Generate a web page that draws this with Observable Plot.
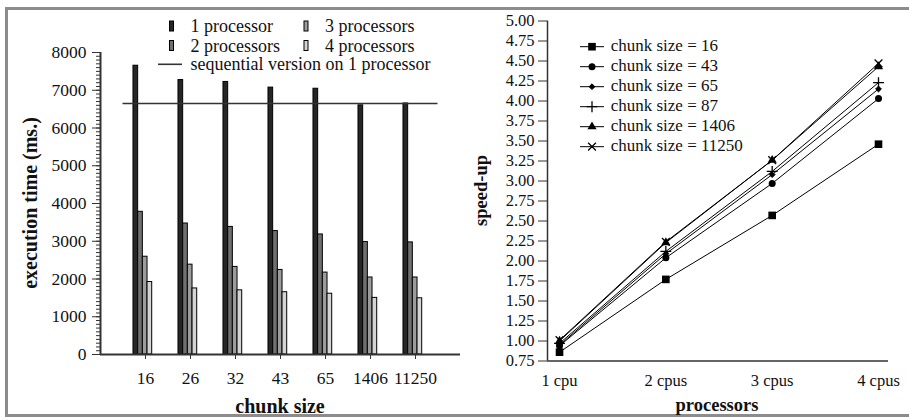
<!DOCTYPE html>
<html><head><meta charset="utf-8">
<script src="https://cdn.jsdelivr.net/npm/d3@7"></script>
<script src="https://cdn.jsdelivr.net/npm/@observablehq/plot@0.6"></script>
<style>
body{margin:0;background:#fff;}
#wrap{position:relative;width:909px;height:419px;overflow:hidden;background:#fff;}
#frame{position:absolute;left:5px;top:7px;width:920px;height:404px;border:3px solid #8c8c8c;border-right:none;}
#left{position:absolute;left:0;top:0}
#right{position:absolute;left:460px;top:0}
svg text{font-family:'Liberation Serif','Times New Roman',serif;}
</style></head><body>
<div id="wrap"><div id="frame"></div><div id="left"></div><div id="right"></div></div>
<script>
// ---- left chart data ----
const chunkSizes = ["16","26","32","43","65","1406","11250"];
const time1 = [7650,7270,7220,7070,7040,6600,6650];
const time2 = [3780,3470,3380,3270,3180,2980,2970];
const time3 = [2590,2380,2320,2240,2170,2040,2040];
const time4 = [1920,1750,1700,1650,1610,1500,1490];
const sequentialTime = 6650;
const processorLabels = ["1 processor","2 processors","3 processors","4 processors"];
const sequentialLabel = "sequential version on 1 processor";
const timeTicks = [0,1000,2000,3000,4000,5000,6000,7000,8000];

// ---- right chart data ----
const cpuLabels = ["1 cpu","2 cpus","3 cpus","4 cpus"];
const lineChunks = ["16","43","65","87","1406","11250"];
const speed16 = [0.86,1.77,2.57,3.46];
const speed43 = [0.94,2.04,2.97,4.03];
const speed65 = [0.95,2.09,3.08,4.15];
const speed87 = [0.97,2.12,3.12,4.23];
const speed1406 = [1.00,2.23,3.26,4.43];
const speed11250 = [1.01,2.24,3.26,4.47];
const speedTicks = [0.75,1.00,1.25,1.50,1.75,2.00,2.25,2.50,2.75,3.00,3.25,3.50,3.75,4.00,4.25,4.50,4.75,5.00];

// ---- styles ----
const barColors = ["#262626","#707070","#9c9c9c","#d4d4d4"];
const serif = "'Liberation Serif','Times New Roman',serif";
const axisColor = "#333";

// ================= LEFT =================
const times = [time1,time2,time3,time4];
const bars = [];
times.forEach((arr,k)=>arr.forEach((v,i)=>bars.push({i, k, v})));
const bw = 0.104, off = -0.267;

const left = Plot.plot({
  width: 460, height: 419,
  marginLeft: 100, marginRight: 0, marginTop: 52, marginBottom: 65,
  style: {fontFamily: serif, fontSize: "17.5px", color: "#111", background: "transparent", overflow: "visible"},
  x: {domain: [0, 8], axis: null},
  y: {domain: [0, 8000], axis: null},
  color: {type: "identity"},
  marks: [
    Plot.rectY(bars, {
      x1: d => d.i + 1 + off + d.k * bw,
      x2: d => d.i + 1 + off + (d.k + 1) * bw,
      y1: 0, y2: "v",
      fill: d => barColors[d.k], stroke: "#000", strokeWidth: 1
    }),
    Plot.ruleY([sequentialTime], {x1: 0.5, x2: 7.5, stroke: axisColor, strokeWidth: 1.6}),
    Plot.axisY({ticks: d3.range(0, 8001, 100), tickSize: 4, tickFormat: () => "", label: null, stroke: axisColor}),
    Plot.axisY({ticks: timeTicks, tickSize: 8, tickPadding: 6, tickFormat: d => String(d), label: null, stroke: axisColor, fill: "#111", fontSize: 17.5}),
    Plot.axisX({ticks: [1,2,3,4,5,6,7], tickFormat: d => chunkSizes[d-1], tickSize: 5, tickPadding: 12, label: null, stroke: axisColor, fill: "#111", fontSize: 17.5}),
    Plot.ruleX([0], {y1: 0, y2: 8000, stroke: axisColor, strokeWidth: 2}),
    Plot.ruleY([0], {stroke: axisColor, strokeWidth: 2})
  ]
});
document.getElementById("left").appendChild(left);

{
  const svg = d3.select(left);
  const g = svg.append("g").attr("font-family", serif).attr("font-size", 18).attr("fill", "#111").attr("text-anchor", "start");
  const cols = [169.5, 304], textCols = [190.5, 325], rows = [32, 51.5];
  processorLabels.forEach((lab, k) => {
    const c = Math.floor(k / 2), r = k % 2;
    g.append("rect").attr("x", cols[c]).attr("y", rows[r] - 11).attr("width", 4).attr("height", 10)
      .attr("fill", barColors[k]).attr("stroke", "#000").attr("stroke-width", 1);
    g.append("text").attr("x", textCols[c]).attr("y", rows[r]).attr("text-anchor", "start").text(lab);
  });
  g.append("line").attr("x1", 158).attr("x2", 182).attr("y1", 64.3).attr("y2", 64.3)
    .attr("stroke", axisColor).attr("stroke-width", 1.6);
  g.append("text").attr("x", 190.5).attr("y", 70).attr("text-anchor", "start").text(sequentialLabel);
  svg.append("text").attr("transform", "translate(36.5,203) rotate(-90)")
    .attr("text-anchor", "middle").attr("font-family", serif).attr("font-weight", "bold")
    .attr("font-size", 20).attr("fill", "#111").text("execution time (ms.)");
  svg.append("text").attr("x", 280).attr("y", 413).attr("text-anchor", "middle")
    .attr("font-family", serif).attr("font-weight", "bold").attr("font-size", 20).attr("fill", "#111").text("chunk size");
}

// ================= RIGHT =================
const speeds = [speed16, speed43, speed65, speed87, speed1406, speed11250];
const symbols = ["square","circle","diamond2","plus","triangle","times"];
const symbolFns = [d3.symbolSquare, d3.symbolCircle, d3.symbolDiamond2, d3.symbolPlus, d3.symbolTriangle, d3.symbolTimes];
const symR = [4.3, 3.5, 2.6, 3.6, 3.4, 3.6];
const symFilled = [true, true, true, false, true, false];
const pts = [];
speeds.forEach((arr, s) => arr.forEach((v, i) => pts.push({s, x: i + 1, v})));

const marksR = [
  Plot.line(pts, {x: "x", y: "v", z: "s", stroke: "#000", strokeWidth: 1})
];
symbols.forEach((sym, s) => {
  marksR.push(Plot.dot(pts.filter(d => d.s === s), {
    x: "x", y: "v", symbol: sym, r: symR[s],
    fill: symFilled[s] ? "#000" : "none", stroke: "#000", strokeWidth: symFilled[s] ? (sym === "diamond2" ? 1 : 0) : 1.3
  }));
});
marksR.push(
  Plot.axisY({ticks: speedTicks, tickFormat: d3.format(".2f"), tickSize: 9, tickPadding: 4, label: null, stroke: axisColor, fill: "#111", fontSize: 16.5}),
  Plot.axisX({ticks: [1,2,3,4], tickFormat: d => cpuLabels[d-1], tickSize: 0, tickPadding: 13, label: null, fill: "#111", fontSize: 16.5}),
  Plot.ruleX([0.887], {y1: 0.75, y2: 5, stroke: axisColor, strokeWidth: 1.5}),
  Plot.ruleY([0.75], {stroke: axisColor, strokeWidth: 1.5})
);

const right = Plot.plot({
  width: 449, height: 419,
  marginLeft: 87, marginRight: 21, marginTop: 20.5, marginBottom: 58.5,
  style: {fontFamily: serif, fontSize: "16.5px", color: "#111", background: "transparent", overflow: "visible"},
  x: {domain: [0.887, 4.094], axis: null},
  y: {domain: [0.75, 5], axis: null},
  marks: marksR
});
document.getElementById("right").appendChild(right);

{
  const svg = d3.select(right);
  const g = svg.append("g").attr("font-family", serif).attr("font-size", 17).attr("fill", "#111").attr("text-anchor", "start");
  lineChunks.forEach((c, s) => {
    const y = 46.7 + 20 * s;
    g.append("line").attr("x1", 120).attr("x2", 144).attr("y1", y).attr("y2", y).attr("stroke", "#000").attr("stroke-width", 1);
    g.append("path").attr("transform", `translate(132,${y})`)
      .attr("d", d3.symbol(symbolFns[s], symR[s] * symR[s] * Math.PI)())
      .attr("fill", symFilled[s] ? "#000" : "none").attr("stroke", "#000")
      .attr("stroke-width", symFilled[s] ? (symbols[s] === "diamond2" ? 1 : 0) : 1.3);
    g.append("text").attr("x", 150.7).attr("y", y + 4.5).attr("text-anchor", "start").text("chunk size = " + c);
  });
  svg.append("text").attr("transform", "translate(27,190.5) rotate(-90)")
    .attr("text-anchor", "middle").attr("font-family", serif).attr("font-weight", "bold")
    .attr("font-size", 18.5).attr("fill", "#111").text("speed-up");
  svg.append("text").attr("x", 257).attr("y", 410.5).attr("text-anchor", "middle")
    .attr("font-family", serif).attr("font-weight", "bold").attr("font-size", 18.5).attr("fill", "#111").text("processors");
}
</script>
</body></html>
